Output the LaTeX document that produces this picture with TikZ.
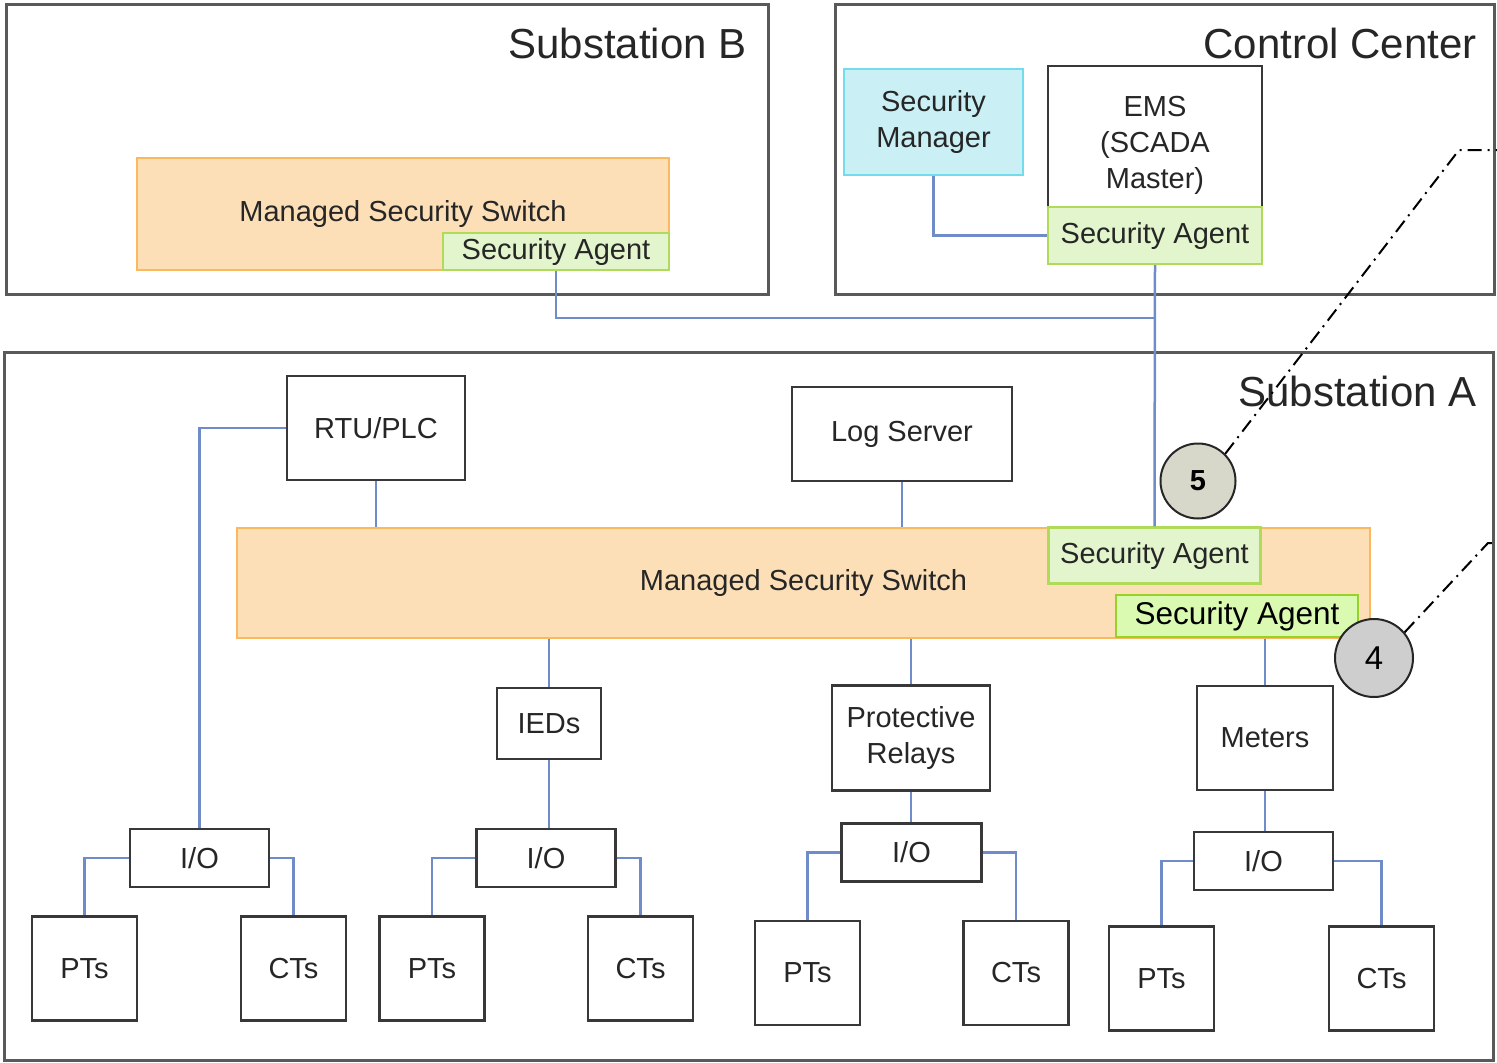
\documentclass[tikz,border=0pt]{standalone}
\usepackage{fontspec}
\setmainfont{Liberation Sans}
\usepackage{tikz}
\usepackage{xcolor}
\definecolor{switchfill}{RGB}{252,223,182}
\definecolor{switchline}{RGB}{250,185,95}
\definecolor{agentfill}{RGB}{226,245,204}
\definecolor{agentline}{RGB}{175,218,90}
\definecolor{agentfillb}{RGB}{218,250,178}
\definecolor{agentlineb}{RGB}{150,210,40}
\definecolor{mgrfill}{RGB}{202,240,246}
\definecolor{mgrline}{RGB}{115,220,236}
\definecolor{linkblue}{RGB}{112,140,200}
\definecolor{numfive}{RGB}{216,216,202}
\definecolor{numfour}{RGB}{206,206,206}

\begin{document}
\begin{tikzpicture}[x=1pt,y=-1pt,
  frame/.style={draw=black!65,line width=3pt},
  title/.style={anchor=base east,font=\fontsize{42}{50}\selectfont,text=black!85},
  box/.style={draw=black!78,line width=2.6pt,fill=white,inner sep=0pt,align=center,
    text=black!85,font=\fontsize{29}{36}\selectfont},
  switch/.style={box,draw=switchline,fill=switchfill,line width=2.4pt},
  agent/.style={box,draw=agentline,fill=agentfill,line width=2.4pt},
  link/.style={draw=linkblue,line width=2.5pt},
  callout/.style={draw=black,line width=2pt,dash pattern=on 14pt off 6pt on 2pt off 6pt},
  num/.style={circle,draw=black!85,line width=2pt,inner sep=0pt,minimum size=75pt}]
\useasboundingbox (0,0) rectangle (1497,1063);
\draw[frame] (6,4) rectangle (768,294);
\draw[frame] (835,4) rectangle (1494,294);
\draw[frame] (4,352) rectangle (1493,1060);
\node[title] (tB) at (750,58) {Substation B};
\node[title] (tC) at (1480,58) {Control Center};
\node[title] (tA) at (1480,406) {Substation A};
\node[switch,minimum width=532pt,minimum height=112pt] (swB) at (403,214) {Managed Security Switch};
\node[agent,minimum width=226pt,minimum height=37pt] (agB) at (556,251.5) {Security Agent};
\node[box,draw=mgrline,fill=mgrfill,minimum width=179pt,minimum height=106pt] (mgr) at (933.5,122) {Security\\Manager};
\node[box,minimum width=214pt,minimum height=158pt] (ems) at (1155,145) {EMS\\(SCADA\\Master)};
\node[agent,minimum width=214pt,minimum height=57pt] (agC) at (1155,235.5) {Security Agent};
\node[box,minimum width=178pt,minimum height=104pt] (rtu) at (376,428) {RTU/PLC};
\node[box,minimum width=220pt,minimum height=94pt] (log) at (902,434) {Log Server};
\node[switch,minimum width=1133pt,minimum height=110pt] (swA) at (803.5,583) {Managed Security Switch};
\node[agent,minimum width=212pt,minimum height=56pt] (agA) at (1154.5,555.5) {Security Agent};
\node[agent,draw=agentlineb,fill=agentfillb,text=black,font=\fontsize{31.5}{36}\selectfont,
  minimum width=242pt,minimum height=42pt] (agM) at (1237,616) {Security Agent};
\node[num,fill=numfive,font=\fontsize{29}{30}\selectfont\bfseries] (n5) at (1198,481) {5};
\node[num,fill=numfour,font=\fontsize{33}{34}\selectfont,minimum size=78pt] (n4) at (1374,658) {4};
\node[box,minimum width=104pt,minimum height=71pt] (ied) at (549,723.5) {IEDs};
\node[box,minimum width=158pt,minimum height=105pt] (prot) at (911,738) {Protective\\Relays};
\node[box,minimum width=136pt,minimum height=104pt] (met) at (1265,738) {Meters};
\node[box,minimum width=139pt,minimum height=58pt] (io1) at (199.5,858) {I/O};
\node[box,minimum width=139pt,minimum height=58pt] (io2) at (546,858) {I/O};
\node[box,minimum width=140pt,minimum height=58pt] (io3) at (911.5,852.5) {I/O};
\node[box,minimum width=139pt,minimum height=58pt] (io4) at (1263.5,861) {I/O};
\node[box,minimum width=105pt,minimum height=104pt] (pt1) at (84.5,968.5) {PTs};
\node[box,minimum width=105pt,minimum height=104pt] (ct1) at (293.5,968.5) {CTs};
\node[box,minimum width=105pt,minimum height=104pt] (pt2) at (432,968.5) {PTs};
\node[box,minimum width=105pt,minimum height=104pt] (ct2) at (640.5,968.5) {CTs};
\node[box,minimum width=105pt,minimum height=104pt] (pt3) at (807.5,973) {PTs};
\node[box,minimum width=105pt,minimum height=104pt] (ct3) at (1016,973) {CTs};
\node[box,minimum width=105pt,minimum height=104pt] (pt4) at (1161.5,978.5) {PTs};
\node[box,minimum width=105pt,minimum height=104pt] (ct4) at (1381.5,978.5) {CTs};
\coordinate (jn) at (1155,318);
\draw[link] (mgr.south) |- (agC.west);
\draw[link] (agC.south) -- (agA.north);
\draw[link] (agB.south) |- (jn);
\draw[link] (rtu.west) -| (io1.north);
\draw[link] (rtu.south) -- (rtu.south |- swA.north);
\draw[link] (log.south) -- (log.south |- swA.north);
\draw[link] (ied.north |- swA.south) -- (ied.north);
\draw[link] (prot.north |- swA.south) -- (prot.north);
\draw[link] (met.north |- swA.south) -- (met.north);
\draw[link] (ied.south) -- (ied.south |- io2.north);
\draw[link] (prot.south) -- (prot.south |- io3.north);
\draw[link] (met.south) -- (met.south |- io4.north);
\draw[link] (io1.west) -| (pt1.north);
\draw[link] (io1.east) -| (ct1.north);
\draw[link] (io2.west) -| (pt2.north);
\draw[link] (io2.east) -| (ct2.north);
\draw[link] (io3.west) -| (pt3.north);
\draw[link] (io3.east) -| (ct3.north);
\draw[link] (io4.west) -| (pt4.north);
\draw[link] (io4.east) -| (ct4.north);
\coordinate (k5) at (1459,150);
\coordinate (e5) at (1497,150);
\draw[callout] (n5.north east) -- (k5) -- (e5);
\coordinate (k4) at (1488,543);
\coordinate (e4) at (1497,543);
\draw[callout] (n4.40) -- (k4) -- (e4);
\end{tikzpicture}
\end{document}
